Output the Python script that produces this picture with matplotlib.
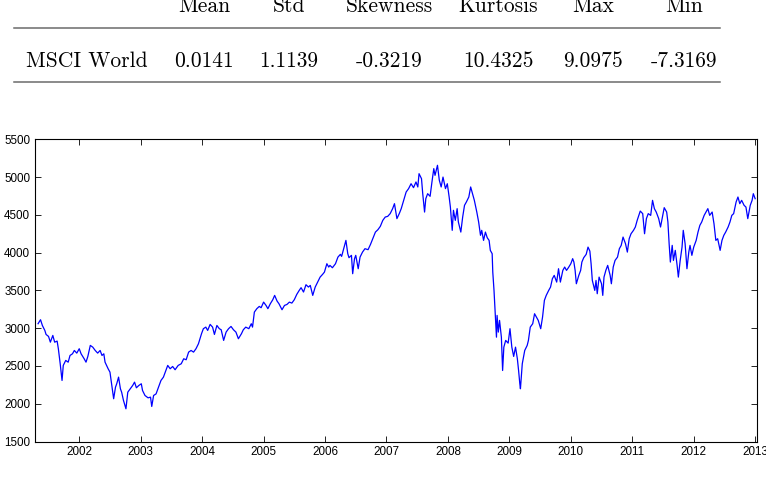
import matplotlib
matplotlib.use("Agg")
import matplotlib.pyplot as plt
from matplotlib.lines import Line2D

# summary statistics table (top)
stat_names = ["Mean", "Std", "Skewness", "Kurtosis", "Max", "Min"]
stat_vals = ["0.0141", "1.1139", "-0.3219", "10.4325", "9.0975", "-7.3169"]
row_label = "MSCI World"

# MSCI World index level (decimal years)
dates = [
    2001.33, 2001.37, 2001.40, 2001.44, 2001.46, 2001.50, 2001.53, 2001.57, 2001.60, 2001.64,
    2001.66, 2001.69, 2001.72, 2001.74, 2001.78, 2001.82, 2001.85, 2001.89, 2001.92, 2001.96,
    2002.00, 2002.03, 2002.08, 2002.11, 2002.14, 2002.18, 2002.22, 2002.26, 2002.30, 2002.34,
    2002.37, 2002.40, 2002.42, 2002.47, 2002.50, 2002.53, 2002.56, 2002.59, 2002.61, 2002.64,
    2002.67, 2002.69, 2002.72, 2002.76, 2002.79, 2002.83, 2002.87, 2002.90, 2002.93, 2002.97,
    2003.01, 2003.03, 2003.07, 2003.12, 2003.16, 2003.18, 2003.21, 2003.25, 2003.29, 2003.33,
    2003.37, 2003.40, 2003.44, 2003.48, 2003.52, 2003.56, 2003.61, 2003.66, 2003.70, 2003.74,
    2003.78, 2003.82, 2003.86, 2003.90, 2003.94, 2003.99, 2004.02, 2004.06, 2004.09, 2004.13,
    2004.17, 2004.20, 2004.24, 2004.28, 2004.31, 2004.35, 2004.39, 2004.43, 2004.47, 2004.51,
    2004.55, 2004.59, 2004.64, 2004.67, 2004.71, 2004.76, 2004.80, 2004.82, 2004.85, 2004.89,
    2004.93, 2004.96, 2005.00, 2005.04, 2005.07, 2005.11, 2005.15, 2005.18, 2005.22, 2005.25,
    2005.30, 2005.34, 2005.38, 2005.42, 2005.46, 2005.50, 2005.54, 2005.58, 2005.61, 2005.65,
    2005.69, 2005.73, 2005.76, 2005.80, 2005.84, 2005.88, 2005.92, 2005.96, 2005.99, 2006.03,
    2006.06, 2006.08, 2006.12, 2006.17, 2006.21, 2006.25, 2006.27, 2006.31, 2006.34, 2006.37,
    2006.39, 2006.43, 2006.45, 2006.48, 2006.50, 2006.54, 2006.57, 2006.61, 2006.65, 2006.70,
    2006.74, 2006.77, 2006.82, 2006.86, 2006.90, 2006.94, 2006.98, 2007.02, 2007.06, 2007.10,
    2007.13, 2007.17, 2007.21, 2007.24, 2007.28, 2007.32, 2007.36, 2007.40, 2007.44, 2007.48,
    2007.51, 2007.53, 2007.57, 2007.59, 2007.62, 2007.64, 2007.67, 2007.71, 2007.74, 2007.77,
    2007.79, 2007.83, 2007.86, 2007.89, 2007.92, 2007.96, 2007.99, 2008.02, 2008.04, 2008.07,
    2008.09, 2008.12, 2008.15, 2008.17, 2008.21, 2008.24, 2008.27, 2008.30, 2008.34, 2008.37,
    2008.40, 2008.43, 2008.47, 2008.50, 2008.53, 2008.55, 2008.58, 2008.61, 2008.64, 2008.67,
    2008.69, 2008.72, 2008.73, 2008.75, 2008.77, 2008.79, 2008.80, 2008.82, 2008.84, 2008.87,
    2008.89, 2008.91, 2008.94, 2008.98, 2009.01, 2009.04, 2009.07, 2009.10, 2009.13, 2009.15,
    2009.17, 2009.18, 2009.21, 2009.25, 2009.29, 2009.31, 2009.34, 2009.38, 2009.41, 2009.44,
    2009.47, 2009.51, 2009.54, 2009.57, 2009.60, 2009.64, 2009.67, 2009.70, 2009.73, 2009.77,
    2009.80, 2009.83, 2009.87, 2009.90, 2009.93, 2009.96, 2010.00, 2010.03, 2010.05, 2010.07,
    2010.09, 2010.13, 2010.16, 2010.18, 2010.21, 2010.25, 2010.28, 2010.31, 2010.33, 2010.35,
    2010.39, 2010.41, 2010.43, 2010.46, 2010.50, 2010.52, 2010.54, 2010.57, 2010.60, 2010.64,
    2010.66, 2010.69, 2010.72, 2010.76, 2010.79, 2010.82, 2010.85, 2010.89, 2010.92, 2010.95,
    2010.98, 2011.02, 2011.05, 2011.08, 2011.13, 2011.17, 2011.20, 2011.23, 2011.26, 2011.30,
    2011.33, 2011.36, 2011.39, 2011.43, 2011.46, 2011.49, 2011.52, 2011.56, 2011.58, 2011.60,
    2011.62, 2011.65, 2011.67, 2011.70, 2011.73, 2011.75, 2011.78, 2011.81, 2011.83, 2011.86,
    2011.89, 2011.92, 2011.94, 2011.97, 2012.00, 2012.04, 2012.07, 2012.10, 2012.13, 2012.17,
    2012.20, 2012.23, 2012.26, 2012.30, 2012.33, 2012.36, 2012.39, 2012.43, 2012.46, 2012.49,
    2012.52, 2012.56, 2012.59, 2012.62, 2012.65, 2012.69, 2012.72, 2012.75, 2012.78, 2012.82,
    2012.85, 2012.88, 2012.92, 2012.95, 2012.97, 2013.00,
]
msci = [
    3059, 3112, 3036, 2970, 2917, 2891, 2815, 2904, 2815, 2829,
    2728, 2529, 2308, 2507, 2573, 2550, 2639, 2661, 2705, 2670,
    2728, 2661, 2595, 2550, 2626, 2772, 2749, 2705, 2670, 2705,
    2639, 2661, 2550, 2463, 2418, 2242, 2066, 2219, 2264, 2352,
    2198, 2153, 2043, 1933, 2153, 2198, 2242, 2286, 2211, 2242,
    2264, 2175, 2109, 2078, 2087, 1964, 2109, 2130, 2219, 2308,
    2352, 2418, 2507, 2463, 2493, 2450, 2507, 2529, 2595, 2582,
    2683, 2705, 2683, 2728, 2794, 2927, 2993, 3014, 2970, 3050,
    3014, 2917, 3036, 2993, 2979, 2838, 2948, 2993, 3023, 2979,
    2948, 2860, 2927, 2979, 3014, 2993, 3059, 3014, 3213, 3258,
    3288, 3271, 3345, 3301, 3258, 3324, 3377, 3434, 3358, 3324,
    3244, 3301, 3314, 3345, 3332, 3377, 3447, 3500, 3536, 3478,
    3575, 3544, 3566, 3434, 3544, 3610, 3676, 3712, 3742, 3853,
    3809, 3831, 3800, 3853, 3941, 3977, 3950, 4073, 4162, 3986,
    3933, 3964, 3721, 3920, 3964, 3787, 3941, 4007, 4052, 4039,
    4109, 4171, 4272, 4303, 4348, 4427, 4471, 4480, 4516, 4582,
    4648, 4450, 4520, 4582, 4692, 4802, 4847, 4912, 4860, 4935,
    4869, 5045, 4979, 4780, 4537, 4714, 4780, 4745, 4935, 5112,
    5023, 5156, 4957, 4869, 5000, 4847, 4912, 4736, 4603, 4295,
    4560, 4427, 4582, 4405, 4272, 4471, 4626, 4670, 4736, 4869,
    4780, 4692, 4537, 4405, 4229, 4295, 4162, 4272, 4197, 4162,
    4030, 3986, 3742, 3500, 3191, 2881, 3169, 2948, 3103, 2881,
    2440, 2749, 2838, 2802, 2993, 2749, 2626, 2749, 2595, 2440,
    2264, 2198, 2529, 2705, 2772, 2838, 3014, 3059, 3191, 3147,
    3103, 2993, 3147, 3368, 3434, 3500, 3544, 3655, 3699, 3610,
    3787, 3610, 3765, 3809, 3765, 3800, 3853, 3920, 3875, 3765,
    3588, 3699, 3765, 3875, 3933, 3977, 4073, 4020, 3853, 3632,
    3500, 3632, 3456, 3676, 3588, 3434, 3676, 3765, 3831, 3699,
    3588, 3809, 3897, 3941, 4052, 4096, 4206, 4118, 4007, 4184,
    4250, 4295, 4339, 4427, 4550, 4516, 4250, 4450, 4516, 4493,
    4692, 4582, 4537, 4450, 4339, 4471, 4595, 4537, 4405, 4118,
    3875, 4096, 3897, 4030, 3831, 3676, 3897, 4073, 4295, 4118,
    3787, 4007, 4096, 3964, 4073, 4162, 4272, 4361, 4405, 4493,
    4537, 4582, 4493, 4537, 4383, 4162, 4184, 4030, 4162, 4229,
    4272, 4339, 4405, 4493, 4516, 4670, 4736, 4648, 4692, 4626,
    4603, 4450, 4626, 4692, 4780, 4714,
]
year_ticks = list(range(2002, 2014))
level_ticks = list(range(1500, 5501, 500))

W, H = 766, 478
fig = plt.figure(figsize=(W / 100, H / 100), dpi=100)


def fx(px):
    return px / W


def fy(py):
    return 1 - py / H


# table drawn in figure pixel coordinates
tfont = dict(family="cmr10", size=15.5)
col_x = [204, 289, 389, 498, 593, 684]
for name, val, x in zip(stat_names, stat_vals, col_x):
    fig.text(fx(x), fy(12), name, ha="center", va="baseline", **tfont)
    fig.text(fx(x), fy(67), val, ha="center", va="baseline", **tfont)
fig.text(fx(26), fy(67), row_label, ha="left", va="baseline", **tfont)
for y in (28, 82):
    fig.add_artist(Line2D([fx(14), fx(720)], [fy(y), fy(y)], color="#6b6b6b", lw=1.1))

# price chart
ax = fig.add_axes([fx(35), fy(441.5), (757 - 35) / W, (441.5 - 139.3) / H])
ax.plot(dates, msci, color="#0000ff", lw=0.9)
ax.set_xlim(2001.28, 2013.03)
ax.set_ylim(1500, 5500)
ax.set_xticks(year_ticks)
ax.set_xticklabels([str(y) for y in year_ticks])
ax.set_yticks(level_ticks)
ax.set_yticklabels([str(v) for v in level_ticks])
ax.tick_params(direction="in", top=True, right=True, length=4.5, width=0.6,
               labelsize=8.4, pad=3.5)
for lab in ax.get_xticklabels() + ax.get_yticklabels():
    lab.set_family("Liberation Sans")
for s in ax.spines.values():
    s.set_linewidth(0.8)

fig.savefig("out.png", dpi=100)
